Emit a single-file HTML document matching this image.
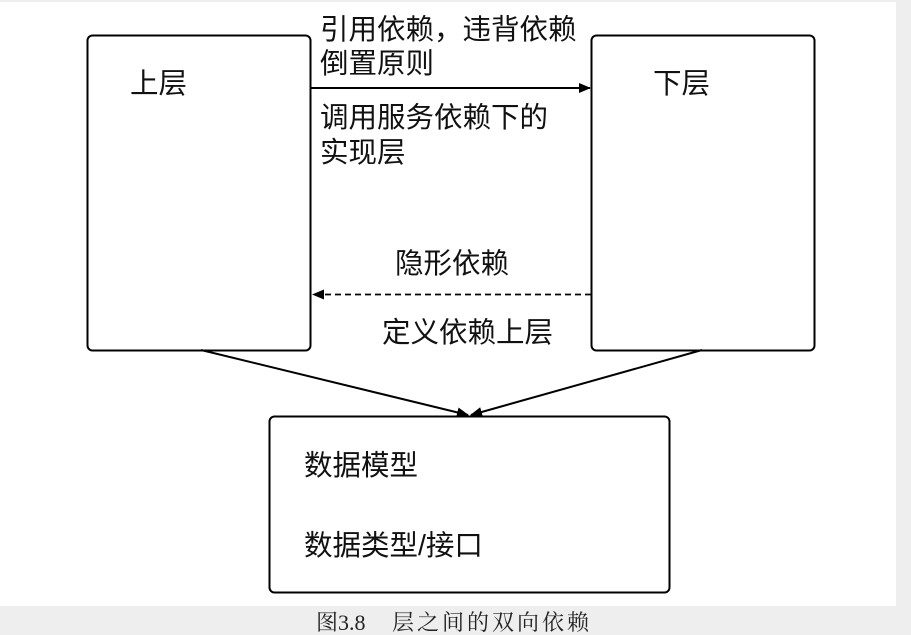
<!DOCTYPE html>
<html><head><meta charset="utf-8"><style>
html,body{margin:0;padding:0;background:#eeeeee;}
svg{display:block;}
text{font-family:"Liberation Sans","Noto Sans CJK SC",sans-serif;font-size:28.5px;fill:#111;}
.cap{font-family:"Liberation Serif","Noto Serif CJK SC",serif;font-size:22px;fill:#222;}
.sp{letter-spacing:3px;}
</style></head><body>
<svg width="911" height="635" viewBox="0 0 911 635">
<defs>
<marker id="ah" markerWidth="12" markerHeight="10" refX="11" refY="5" orient="auto" markerUnits="userSpaceOnUse">
<path d="M0,0 L12,5 L0,10 z" fill="#000"/></marker>
</defs>
<rect x="0" y="2" width="896" height="604" fill="#fff"/>
<rect x="87.5" y="35.5" width="223" height="315" rx="5" fill="#fff" stroke="#000" stroke-width="2"/>
<rect x="591.5" y="35.5" width="223" height="315" rx="5" fill="#fff" stroke="#000" stroke-width="2"/>
<rect x="269.5" y="416.5" width="400" height="176" rx="5" fill="#fff" stroke="#000" stroke-width="2"/>
<line x1="311" y1="88" x2="590" y2="88" stroke="#000" stroke-width="2" marker-end="url(#ah)"/>
<line x1="591" y1="294.5" x2="313" y2="294.5" stroke="#000" stroke-width="1.8" stroke-dasharray="6,4" marker-end="url(#ah)"/>
<line x1="201" y1="350" x2="468" y2="415" stroke="#000" stroke-width="2" marker-end="url(#ah)"/>
<line x1="702" y1="350" x2="471" y2="415" stroke="#000" stroke-width="2" marker-end="url(#ah)"/>
<text x="130" y="93">上层</text>
<text x="653" y="93">下层</text>
<text x="320" y="39">引用依赖，违背依赖</text>
<text x="320" y="73">倒置原则</text>
<text x="320" y="127">调用服务依赖下的</text>
<text x="320" y="162">实现层</text>
<text x="395" y="273">隐形依赖</text>
<text x="382" y="342">定义依赖上层</text>
<text x="304" y="475">数据模型</text>
<text x="304" y="555">数据类型/接口</text>
<text class="cap" x="316" y="630">图3.8</text>
<text class="cap sp" x="392" y="630">层之间的双向依赖</text>
</svg>
</body></html>
